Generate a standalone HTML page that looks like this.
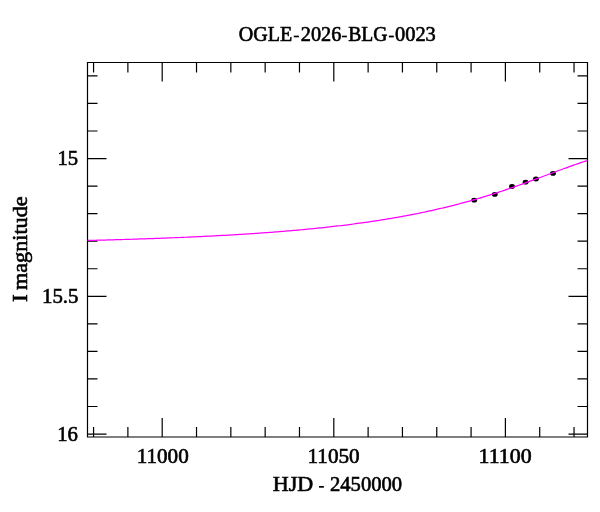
<!DOCTYPE html>
<html><head><meta charset="utf-8"><style>
html,body{margin:0;padding:0;background:#fff;width:600px;height:512px;overflow:hidden}
svg{display:block;will-change:transform}
text{font-family:"Liberation Serif",serif;fill:#000;stroke:#000;stroke-width:0.6px}
</style></head><body>
<svg width="600" height="512" viewBox="0 0 600 512">
<rect width="600" height="512" fill="#fff"/>
<text x="238.75" y="41.1" font-size="20" textLength="53.5" lengthAdjust="spacingAndGlyphs">OGLE</text>
<text x="300.75" y="41.1" font-size="20" textLength="40.55" lengthAdjust="spacingAndGlyphs">2026</text>
<text x="348.25" y="41.1" font-size="20" textLength="39.21" lengthAdjust="spacingAndGlyphs">BLG</text>
<text x="395.0" y="41.1" font-size="20" textLength="40.82" lengthAdjust="spacingAndGlyphs">0023</text>
<text x="272.75" y="491.2" font-size="20" textLength="40.51" lengthAdjust="spacingAndGlyphs">HJD</text>
<text x="330.0" y="491.3" font-size="20" textLength="72.09" lengthAdjust="spacingAndGlyphs">2450000</text>
<text transform="translate(27.0 302.0) rotate(-90)" font-size="20" textLength="7.84" lengthAdjust="spacingAndGlyphs">I</text>
<text transform="translate(27 290.0) rotate(-90)" font-size="20" textLength="93.63" lengthAdjust="spacingAndGlyphs">magnitude</text>
<text x="136.72" y="462.8" font-size="20" textLength="52.04" lengthAdjust="spacingAndGlyphs">11000</text>
<text x="307.5" y="462.8" font-size="20" textLength="52.16" lengthAdjust="spacingAndGlyphs">11050</text>
<text x="478.5" y="462.8" font-size="20" textLength="53.09" lengthAdjust="spacingAndGlyphs">11100</text>
<text x="57.5" y="165.2" font-size="20" textLength="20.64" lengthAdjust="spacingAndGlyphs">15</text>
<text x="42.0" y="303.3" font-size="20" textLength="36.47" lengthAdjust="spacingAndGlyphs">15.5</text>
<text x="57.25" y="441.0" font-size="20" textLength="20.73" lengthAdjust="spacingAndGlyphs">16</text>
<rect x="293.8" y="35.65" width="5.1" height="1.65" fill="#000"/>
<rect x="341.9" y="35.65" width="5.0" height="1.65" fill="#000"/>
<rect x="388.9" y="35.6" width="4.9" height="1.8" fill="#000"/>
<rect x="319" y="486" width="4.9" height="1.7" fill="#000"/>
<g fill="#000"><ellipse cx="474.2" cy="200.2" rx="2.9" ry="2.4"/><ellipse cx="494.8" cy="194.4" rx="2.9" ry="2.4"/><ellipse cx="512" cy="186.5" rx="2.9" ry="2.4"/><ellipse cx="525.6" cy="182.2" rx="2.9" ry="2.4"/><ellipse cx="536" cy="179" rx="2.9" ry="2.4"/><ellipse cx="553" cy="173.4" rx="2.9" ry="2.4"/></g>
<path d="M87.5 62.5H587.5V437.0H87.5Z" fill="none" stroke="#000" stroke-width="1.2"/>
<path d="M93.56 62.50L93.56 72.50M93.56 437.00L93.56 427.00M127.88 62.50L127.88 72.50M127.88 437.00L127.88 427.00M162.20 62.50L162.20 81.50M162.20 437.00L162.20 418.00M196.52 62.50L196.52 72.50M196.52 437.00L196.52 427.00M230.84 62.50L230.84 72.50M230.84 437.00L230.84 427.00M265.16 62.50L265.16 72.50M265.16 437.00L265.16 427.00M299.48 62.50L299.48 72.50M299.48 437.00L299.48 427.00M333.80 62.50L333.80 81.50M333.80 437.00L333.80 418.00M368.12 62.50L368.12 72.50M368.12 437.00L368.12 427.00M402.44 62.50L402.44 72.50M402.44 437.00L402.44 427.00M436.76 62.50L436.76 72.50M436.76 437.00L436.76 427.00M471.08 62.50L471.08 72.50M471.08 437.00L471.08 427.00M505.40 62.50L505.40 81.50M505.40 437.00L505.40 418.00M539.72 62.50L539.72 72.50M539.72 437.00L539.72 427.00M574.04 62.50L574.04 72.50M574.04 437.00L574.04 427.00M87.50 75.92L97.50 75.92M587.50 75.92L577.50 75.92M87.50 103.47L97.50 103.47M587.50 103.47L577.50 103.47M87.50 131.02L97.50 131.02M587.50 131.02L577.50 131.02M87.50 158.57L106.50 158.57M587.50 158.57L568.50 158.57M87.50 186.12L97.50 186.12M587.50 186.12L577.50 186.12M87.50 213.67L97.50 213.67M587.50 213.67L577.50 213.67M87.50 241.22L97.50 241.22M587.50 241.22L577.50 241.22M87.50 268.77L97.50 268.77M587.50 268.77L577.50 268.77M87.50 296.32L106.50 296.32M587.50 296.32L568.50 296.32M87.50 323.87L97.50 323.87M587.50 323.87L577.50 323.87M87.50 351.42L97.50 351.42M587.50 351.42L577.50 351.42M87.50 378.97L97.50 378.97M587.50 378.97L577.50 378.97M87.50 406.52L97.50 406.52M587.50 406.52L577.50 406.52M87.50 434.07L106.50 434.07M587.50 434.07L568.50 434.07" fill="none" stroke="#000" stroke-width="1.2"/>
<path d="M87.50 240.47L89.50 240.42L91.50 240.37L93.50 240.32L95.50 240.27L97.50 240.22L99.50 240.17L101.50 240.11L103.50 240.06L105.50 240.01L107.50 239.95L109.50 239.90L111.50 239.84L113.50 239.79L115.50 239.73L117.50 239.67L119.50 239.62L121.50 239.56L123.50 239.50L125.50 239.44L127.50 239.38L129.50 239.31L131.50 239.25L133.50 239.19L135.50 239.13L137.50 239.06L139.50 238.99L141.50 238.93L143.50 238.86L145.50 238.79L147.50 238.73L149.50 238.66L151.50 238.59L153.50 238.51L155.50 238.44L157.50 238.37L159.50 238.30L161.50 238.22L163.50 238.14L165.50 238.07L167.50 237.99L169.50 237.91L171.50 237.83L173.50 237.75L175.50 237.67L177.50 237.59L179.50 237.50L181.50 237.42L183.50 237.33L185.50 237.25L187.50 237.16L189.50 237.07L191.50 236.98L193.50 236.89L195.50 236.80L197.50 236.70L199.50 236.61L201.50 236.51L203.50 236.42L205.50 236.32L207.50 236.22L209.50 236.12L211.50 236.02L213.50 235.91L215.50 235.81L217.50 235.70L219.50 235.59L221.50 235.49L223.50 235.38L225.50 235.26L227.50 235.15L229.50 235.04L231.50 234.92L233.50 234.80L235.50 234.68L237.50 234.56L239.50 234.44L241.50 234.32L243.50 234.19L245.50 234.07L247.50 233.94L249.50 233.81L251.50 233.68L253.50 233.54L255.50 233.41L257.50 233.27L259.50 233.13L261.50 232.99L263.50 232.85L265.50 232.70L267.50 232.56L269.50 232.41L271.50 232.26L273.50 232.10L275.50 231.95L277.50 231.79L279.50 231.64L281.50 231.47L283.50 231.31L285.50 231.15L287.50 230.98L289.50 230.81L291.50 230.64L293.50 230.47L295.50 230.29L297.50 230.11L299.50 229.93L301.50 229.75L303.50 229.56L305.50 229.37L307.50 229.18L309.50 228.99L311.50 228.79L313.50 228.59L315.50 228.39L317.50 228.19L319.50 227.98L321.50 227.77L323.50 227.56L325.50 227.34L327.50 227.12L329.50 226.90L331.50 226.68L333.50 226.45L335.50 226.22L337.50 225.99L339.50 225.75L341.50 225.51L343.50 225.27L345.50 225.02L347.50 224.77L349.50 224.52L351.50 224.26L353.50 224.00L355.50 223.74L357.50 223.47L359.50 223.20L361.50 222.92L363.50 222.64L365.50 222.36L367.50 222.08L369.50 221.79L371.50 221.49L373.50 221.19L375.50 220.89L377.50 220.58L379.50 220.27L381.50 219.96L383.50 219.64L385.50 219.32L387.50 218.99L389.50 218.66L391.50 218.32L393.50 217.98L395.50 217.63L397.50 217.28L399.50 216.92L401.50 216.56L403.50 216.20L405.50 215.83L407.50 215.45L409.50 215.07L411.50 214.69L413.50 214.30L415.50 213.90L417.50 213.50L419.50 213.09L421.50 212.68L423.50 212.26L425.50 211.84L427.50 211.41L429.50 210.98L431.50 210.54L433.50 210.09L435.50 209.64L437.50 209.18L439.50 208.72L441.50 208.25L443.50 207.78L445.50 207.29L447.50 206.81L449.50 206.31L451.50 205.81L453.50 205.31L455.50 204.80L457.50 204.28L459.50 203.75L461.50 203.22L463.50 202.68L465.50 202.14L467.50 201.59L469.50 201.03L471.50 200.47L473.50 199.89L475.50 199.32L477.50 198.73L479.50 198.14L481.50 197.55L483.50 196.94L485.50 196.33L487.50 195.72L489.50 195.10L491.50 194.47L493.50 193.83L495.50 193.19L497.50 192.54L499.50 191.89L501.50 191.23L503.50 190.56L505.50 189.89L507.50 189.21L509.50 188.53L511.50 187.84L513.50 187.14L515.50 186.45L517.50 185.74L519.50 185.03L521.50 184.32L523.50 183.60L525.50 182.87L527.50 182.15L529.50 181.42L531.50 180.68L533.50 179.94L535.50 179.20L537.50 178.46L539.50 177.72L541.50 176.97L543.50 176.22L545.50 175.47L547.50 174.72L549.50 173.97L551.50 173.23L553.50 172.48L555.50 171.73L557.50 170.99L559.50 170.24L561.50 169.50L563.50 168.77L565.50 168.04L567.50 167.31L569.50 166.59L571.50 165.88L573.50 165.17L575.50 164.48L577.50 163.79L579.50 163.10L581.50 162.43L583.50 161.78L585.50 161.13L587.50 160.49" fill="none" stroke="#ff00ff" stroke-width="1.25"/>
</svg>
</body></html>
